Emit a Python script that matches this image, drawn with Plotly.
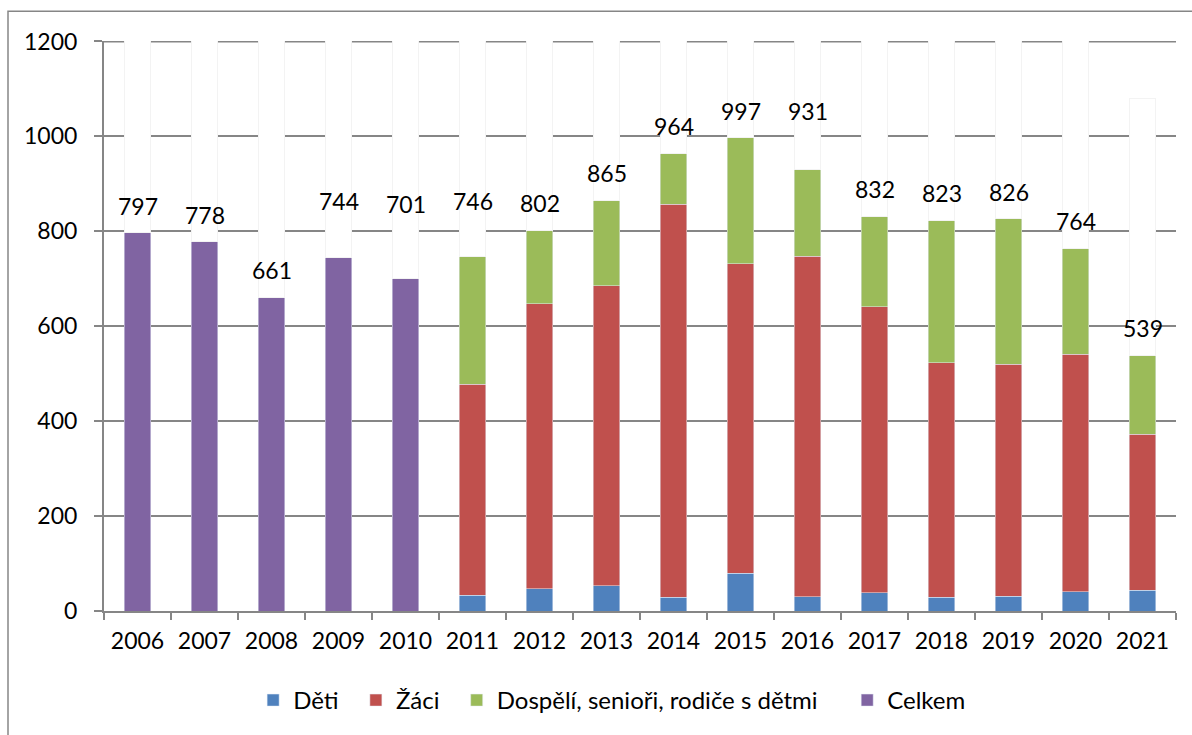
import plotly.graph_objects as go

# ---------------- DATA ----------------
years = [str(y) for y in range(2006, 2022)]
celkem = [797, 778, 661, 744, 701, None, None, None, None, None, None, None, None, None, None, None]
deti = [None, None, None, None, None, 33, 47, 53, 29, 80, 30, 38, 29, 31, 41, 44]
zaci = [None, None, None, None, None, 445, 600, 632, 828, 652, 718, 603, 494, 489, 500, 328]
dospeli = [None, None, None, None, None, 268, 155, 180, 107, 265, 183, 191, 300, 306, 223, 167]

# ---------------- STYLE ----------------
C_BLUE = "#4F81BD"
C_RED = "#C0504D"
C_GREEN = "#9BBB59"
C_PURPLE = "#8064A2"
GRID = "#868686"
FONT = "Lato"
FS = 23
NB = "\u00a0"
# hidden (white) helper bars of the original chart, tops in axis units
filler_top = [1300] * 15 + [1080]
# label lift above bar top in px (default + manual moves of the original)
label_lift_default = 27
label_lift_override = {"2009": 57, "2010": 74, "2011": 56, "2016": 58}

totals = []
for i in range(len(years)):
    if celkem[i] is not None:
        totals.append(celkem[i])
    else:
        totals.append(deti[i] + zaci[i] + dospeli[i])

fig = go.Figure()
fig.add_trace(go.Bar(x=years, y=deti, name="Děti" + NB * 2, marker=dict(color=C_BLUE)))
fig.add_trace(go.Bar(x=years, y=zaci, name="Žáci" + NB * 2, marker=dict(color=C_RED)))
fig.add_trace(go.Bar(x=years, y=dospeli, name="Dospělí, senioři, rodiče s dětmi" + NB * 4, marker=dict(color=C_GREEN)))
fig.add_trace(go.Bar(x=years, y=celkem, name="Celkem", marker=dict(color=C_PURPLE)))
fig.add_trace(go.Bar(
    x=years, y=[t - b for t, b in zip(filler_top, totals)], base=totals,
    marker=dict(color="white", line=dict(color="#f3f3f3", width=1)),
    showlegend=False, hoverinfo="skip",
))

annotations = []
for i, (yr, tot) in enumerate(zip(years, totals)):
    lift = label_lift_override.get(yr, label_lift_default)
    annotations.append(dict(
        x=i, y=tot, xref="x", yref="y", text=str(tot), showarrow=False,
        yanchor="middle", yshift=lift, font=dict(family=FONT, size=FS, color="black"),
    ))

fig.update_layout(
    width=1192, height=735,
    margin=dict(l=104, r=16, t=41, b=124, autoexpand=False),
    paper_bgcolor="white", plot_bgcolor="white",
    barmode="stack", bargap=0.61,
    font=dict(family=FONT, size=FS, color="black"),
    showlegend=True,
    legend=dict(orientation="h", x=0.474, xanchor="center", y=-0.157, yanchor="middle",
                font=dict(family=FONT, size=24, color="black"), traceorder="normal"),
    annotations=annotations,
    shapes=[
        dict(type="rect", xref="paper", yref="paper",
             x0=(8 - 104) / 1072, x1=(1210 - 104) / 1072,
             y0=(610.5 - 760) / 569.8, y1=(610.5 - 11) / 569.8,
             line=dict(color=GRID, width=1.5), layer="below"),
        dict(type="line", xref="paper", yref="y", x0=0, x1=1, y0=1200, y1=1200,
             line=dict(color=GRID, width=2), layer="below"),
    ],
)
fig.update_xaxes(type="category", range=[-0.5, 15.5], showline=True, linecolor=GRID, linewidth=2,
                 ticks="outside", tickson="boundaries", ticklen=7, tickwidth=2, tickcolor=GRID,
                 tickangle=0, ticklabelstandoff=8,
                 showgrid=False, tickfont=dict(family=FONT, size=FS, color="black"))
fig.update_yaxes(range=[0, 1201], tickvals=[0, 200, 400, 600, 800, 1000, 1200],
                 showline=True, linecolor=GRID, linewidth=2,
                 ticks="outside", ticklen=8, tickwidth=2, tickcolor=GRID,
                 showgrid=True, gridcolor=GRID, gridwidth=2, zeroline=False,
                 ticklabelstandoff=12,
                 tickfont=dict(family=FONT, size=FS, color="black"))

fig.write_html("out.html", config={"displayModeBar": False},
               post_script="document.body.style.margin='0px';document.body.style.overflow='hidden';")
